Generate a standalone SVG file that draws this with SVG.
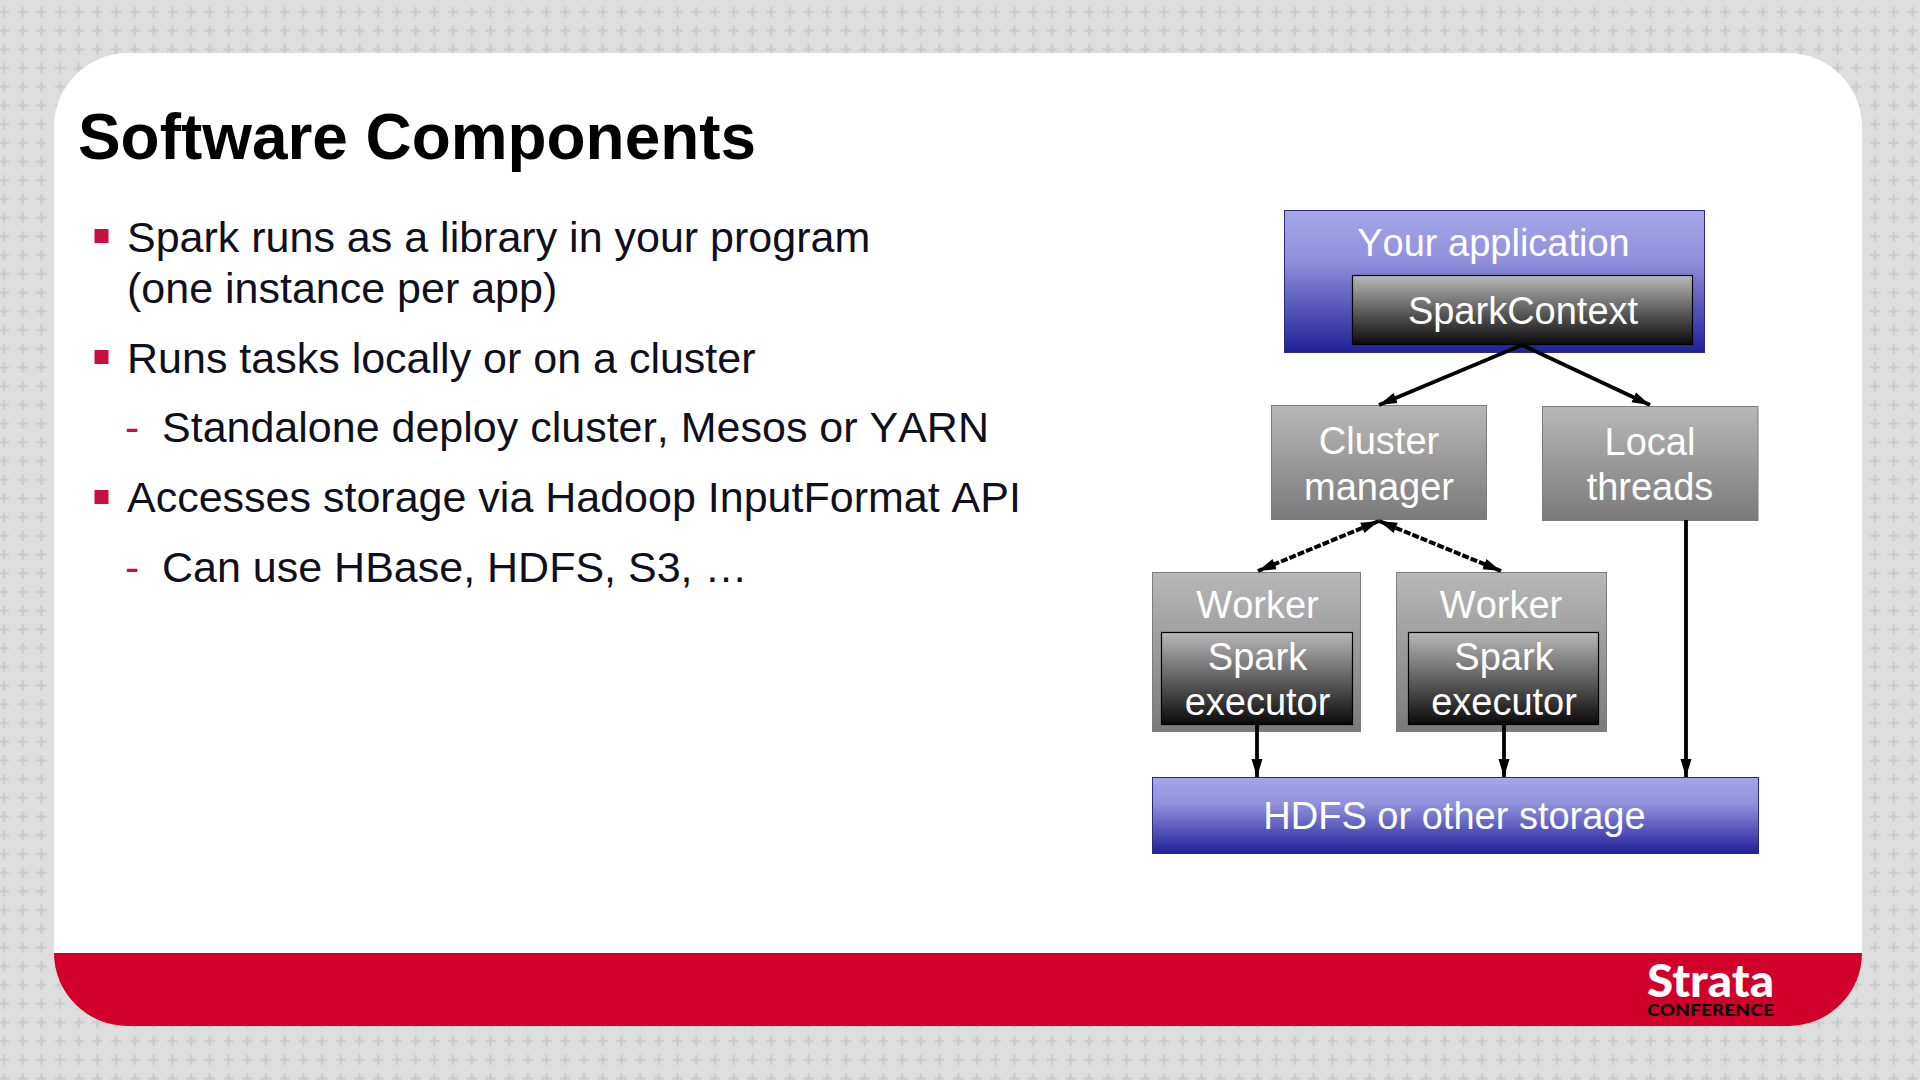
<svg xmlns="http://www.w3.org/2000/svg" width="1920" height="1080" viewBox="0 0 1920 1080">
<style>
text{font-family:"Liberation Sans",Arial,sans-serif}
.t{font-size:63.9px;font-weight:700;fill:#000}
.b{font-size:43px;fill:#10101c;font-kerning:none}
.d{fill:#c8103e;font-size:43px}
.n{font-size:38px;fill:#fff;text-anchor:middle;font-kerning:none}
.blue{fill:url(#gBlue);stroke:#2b2b78;stroke-width:1}
.gray{fill:url(#gGray);stroke:#7c7c7c;stroke-width:1}
.dark{fill:url(#gDark);stroke:#000;stroke-width:1.2}
.c{fill:none;stroke:#000;stroke-width:3.8;marker-end:url(#ah)}
.cd{fill:none;stroke:#000;stroke-width:4;stroke-dasharray:7 2;marker-end:url(#ah);marker-start:url(#ahs)}
</style>
<defs>
<linearGradient id="gBlue" x1="0" y1="0" x2="0" y2="1"><stop offset="0" stop-color="#a6a6e8"/><stop offset=".35" stop-color="#9090dc"/><stop offset="1" stop-color="#20209a"/></linearGradient>
<linearGradient id="gGray" x1="0" y1="0" x2="0" y2="1"><stop offset="0" stop-color="#b8b8b8"/><stop offset="1" stop-color="#7a7a7a"/></linearGradient>
<linearGradient id="gDark" x1="0" y1="0" x2="0" y2="1"><stop offset="0" stop-color="#b8b8b8"/><stop offset="1" stop-color="#0a0a0a"/></linearGradient>
<pattern id="plus" width="18.71" height="18.71" patternUnits="userSpaceOnUse" x="-5.35" y="2.65">
<rect width="18.71" height="18.71" fill="#dedede"/>
<path d="M9.35 4.200V14.500M4.200 9.350H14.500" stroke="#c9c9c9" stroke-width="2.200" fill="none"/>
</pattern>
<marker id="ah" markerUnits="userSpaceOnUse" markerWidth="19" markerHeight="14" refX="18" refY="7" orient="auto"><path d="M0 1.500L18 7L0 12.500z" fill="#000"/></marker>
<marker id="ahs" markerUnits="userSpaceOnUse" markerWidth="19" markerHeight="14" refX="0" refY="7" orient="auto"><path d="M18 1.500L0 7L18 12.500z" fill="#000"/></marker>
</defs>
<rect width="1920" height="1080" fill="url(#plus)"/>
<g id="panel">
<path d="M54 953V127a74 74 0 0 1 74-74H1788a74 74 0 0 1 74 74V953z" fill="#fff"/>
<path d="M54 953H1862a74 73 0 0 1-74 73H128a74 73 0 0 1-74-73z" fill="#d0002b"/>
</g>
<g id="logo">
<text x="1647" y="997" font-size="46" font-weight="900" fill="#fff" style="font-family:Lato,sans-serif" textLength="127" lengthAdjust="spacingAndGlyphs">Strata</text>
<text x="1647" y="1016" font-size="16.500" font-weight="900" fill="#0a0a0a" style="font-family:Lato,sans-serif" textLength="127" lengthAdjust="spacingAndGlyphs">CONFERENCE</text>
</g>
<g id="title"><text class="t" x="78" y="159">Software Components</text></g>
<g id="bullets">
<rect x="94.500" y="229" width="14" height="14" fill="#c8103e"/>
<text class="b" x="127" y="252">Spark runs as a library in your program</text>
<text class="b" x="127" y="303">(one instance per app)</text>
<rect x="94.500" y="350" width="14" height="14" fill="#c8103e"/>
<text class="b" x="127" y="373">Runs tasks locally or on a cluster</text>
<text class="d" x="125" y="442">-</text>
<text class="b" x="162" y="442">Standalone deploy cluster, Mesos or YARN</text>
<rect x="94.500" y="490" width="14" height="14" fill="#c8103e"/>
<text class="b" x="127" y="512">Accesses storage via Hadoop InputFormat API</text>
<text class="d" x="125" y="582">-</text>
<text class="b" x="162" y="582">Can use HBase, HDFS, S3, …</text>
</g>
<g id="app"><rect class="blue" x="1284.500" y="210.500" width="420" height="142"/><text class="n" x="1493.500" y="256">Your application</text></g>
<g id="sparkcontext"><rect class="dark" x="1352.500" y="275.500" width="340" height="69"/><text class="n" x="1523" y="324">SparkContext</text></g>
<g id="cluster"><rect class="gray" x="1271.500" y="405.500" width="215" height="114"/><text class="n" x="1379" y="454">Cluster</text><text class="n" x="1379" y="500">manager</text></g>
<g id="local"><rect class="gray" x="1542.500" y="406.500" width="215.500" height="114"/><text class="n" x="1650" y="455">Local</text><text class="n" x="1650" y="500">threads</text></g>
<g id="worker1"><rect class="gray" x="1152.500" y="572.500" width="208" height="159"/><text class="n" x="1257.500" y="618">Worker</text></g>
<g id="executor1"><rect class="dark" x="1161.500" y="632.500" width="191" height="92"/><text class="n" x="1257.500" y="670">Spark</text><text class="n" x="1257.500" y="715">executor</text></g>
<g id="worker2"><rect class="gray" x="1396.500" y="572.500" width="210" height="159"/><text class="n" x="1501" y="618">Worker</text></g>
<g id="executor2"><rect class="dark" x="1408.500" y="632.500" width="190" height="92"/><text class="n" x="1504" y="670">Spark</text><text class="n" x="1504" y="715">executor</text></g>
<g id="storage"><rect class="blue" x="1152.500" y="777.500" width="606" height="76"/><text class="n" x="1454.500" y="829">HDFS or other storage</text></g>
<g id="connectors">
<path class="c" d="M1522 345L1379 405"/>
<path class="c" d="M1522 345L1650 405"/>
<path class="cd" d="M1379 521L1258 571"/>
<path class="cd" d="M1379 521L1501 571"/>
<path class="c" d="M1257 725V777"/>
<path class="c" d="M1504 725V777"/>
<path class="c" d="M1686 520V777"/>
</g>
</svg>
